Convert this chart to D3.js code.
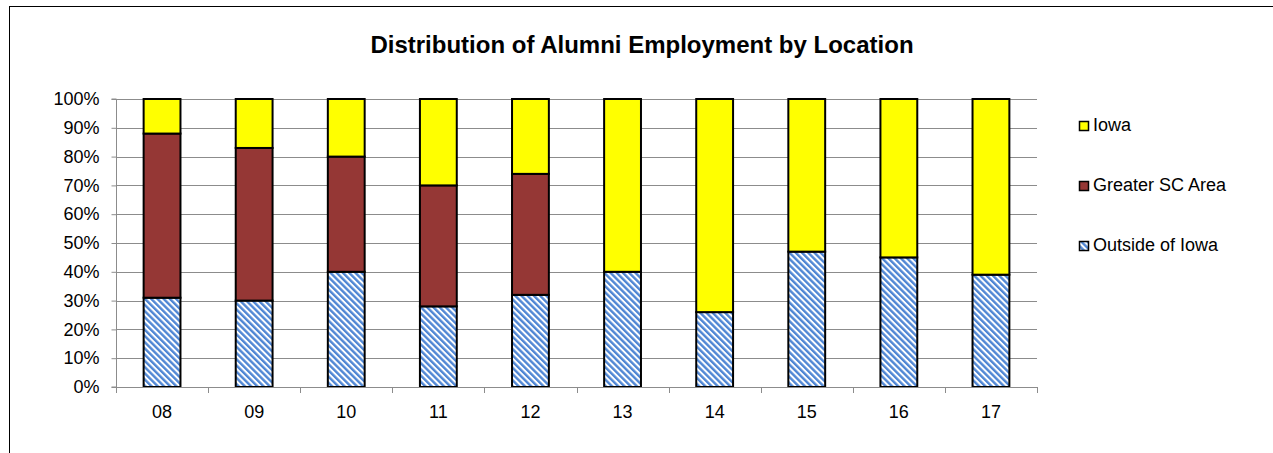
<!DOCTYPE html>
<html>
<head>
<meta charset="utf-8">
<script src="https://cdn.jsdelivr.net/npm/d3@7"></script>
<style>
  html, body { margin: 0; padding: 0; background: #fff; }
  svg { display: block; }
  text { font-family: "Liberation Sans", Arial, sans-serif; fill: #000; }
</style>
</head>
<body>
<svg id="chart" width="1273" height="453"></svg>
<script>
// ---- Data ----
const categories = ["08", "09", "10", "11", "12", "13", "14", "15", "16", "17"];
const outsideOfIowa = [31, 30, 40, 28, 32, 40, 26, 47, 45, 39];
const greaterSCArea = [57, 53, 40, 42, 42, 0, 0, 0, 0, 0];
const iowa = [12, 17, 20, 30, 26, 60, 74, 53, 55, 61];
const yTickValues = [0, 10, 20, 30, 40, 50, 60, 70, 80, 90, 100];
const seriesNames = ["Outside of Iowa", "Greater SC Area", "Iowa"];
const title = "Distribution of Alumni Employment by Location";

// ---- Setup ----
const svg = d3.select("#chart");
const W = 1273, H = 453;
const plot = { left: 116, right: 1037, top: 99, bottom: 387 };

// outer chart border (extends beyond the frame on right/bottom)
svg.append("rect")
  .attr("x", 9.5).attr("y", 6.5)
  .attr("width", W + 20).attr("height", H + 20)
  .attr("fill", "#fff").attr("stroke", "#000").attr("stroke-width", 1);

const defs = svg.append("defs");
const pat = defs.append("pattern")
  .attr("id", "hatch")
  .attr("patternUnits", "userSpaceOnUse")
  .attr("width", 4.4).attr("height", 4.4)
  .attr("patternTransform", "rotate(-45)");
pat.append("rect").attr("width", 4.4).attr("height", 4.4).attr("fill", "#fff");
pat.append("rect").attr("x", 0).attr("y", 0).attr("width", 2.4).attr("height", 4.4).attr("fill", "#4F86D4");

const x = d3.scaleBand().domain(categories).range([plot.left, plot.right]).paddingInner(0.6).paddingOuter(0.3);
const xb = d3.scaleBand().domain(categories).range([plot.left, plot.right]);
const y = d3.scaleLinear().domain([0, 100]).range([plot.bottom, plot.top]);

// gridlines
svg.append("g")
  .selectAll("line")
  .data(yTickValues.filter(v => v > 0))
  .join("line")
  .attr("x1", plot.left).attr("x2", plot.right)
  .attr("y1", d => Math.round(y(d)) + 0.5).attr("y2", d => Math.round(y(d)) + 0.5)
  .attr("stroke", "#8c8c8c").attr("stroke-width", 1);

// stacked bars
const rows = categories.map((c, i) => ({ cat: c, outside: outsideOfIowa[i], greater: greaterSCArea[i], iowa: iowa[i] }));
const stack = d3.stack().keys(["outside", "greater", "iowa"]);
const stacked = stack(rows);
const fills = { outside: "url(#hatch)", greater: "#953735", iowa: "#FFFF00" };

stacked.forEach(layer => {
  svg.append("g")
    .selectAll("rect")
    .data(layer.filter(d => d[1] - d[0] > 0))
    .join("rect")
    .attr("x", d => x(d.data.cat))
    .attr("width", x.bandwidth())
    .attr("y", d => y(d[1]))
    .attr("height", d => y(d[0]) - y(d[1]))
    .attr("fill", fills[layer.key])
    .attr("stroke", "#000").attr("stroke-width", 2);
});

// y axis
const yAxis = d3.axisLeft(y).tickValues(yTickValues).tickSize(5).tickPadding(12).tickFormat(d => d + "%");
const gy = svg.append("g").attr("transform", `translate(${plot.left + 0.5},0)`).call(yAxis);
gy.select(".domain").attr("stroke", "#8c8c8c").attr("d", `M-5,${plot.bottom}H0V${plot.top}H-5`);
gy.selectAll(".tick line").attr("stroke", "#8c8c8c");
gy.selectAll(".tick text").attr("font-size", 18).attr("font-family", "Liberation Sans, Arial, sans-serif").attr("fill", "#000");
gy.attr("font-size", null);

// x axis (ticks at category boundaries)
svg.append("line")
  .attr("x1", plot.left).attr("x2", plot.right)
  .attr("y1", plot.bottom + 0.5).attr("y2", plot.bottom + 0.5)
  .attr("stroke", "#8c8c8c");
const boundaries = categories.map(c => xb(c)).concat([plot.right]);
svg.append("g").selectAll("line").data(boundaries).join("line")
  .attr("x1", d => Math.round(d) + 0.5).attr("x2", d => Math.round(d) + 0.5)
  .attr("y1", plot.bottom).attr("y2", plot.bottom + 6)
  .attr("stroke", "#8c8c8c");
svg.append("g").selectAll("text").data(categories).join("text")
  .attr("x", d => xb(d) + xb.bandwidth() / 2)
  .attr("y", 418)
  .attr("text-anchor", "middle")
  .attr("font-size", 18)
  .text(d => d);

// title
svg.append("text")
  .attr("x", 642).attr("y", 53)
  .attr("text-anchor", "middle")
  .attr("font-size", 24).attr("font-weight", "bold")
  .text(title);

// legend (reverse order: Iowa on top)
const legendItems = [
  { name: seriesNames[2], fill: fills.iowa },
  { name: seriesNames[1], fill: fills.greater },
  { name: seriesNames[0], fill: fills.outside }
];
const lg = svg.append("g").selectAll("g").data(legendItems).join("g")
  .attr("transform", (d, i) => `translate(1079.5,${121.5 + i * 60})`);
lg.append("rect").attr("width", 9).attr("height", 9)
  .attr("fill", d => d.fill).attr("stroke", "#000").attr("stroke-width", 1.5);
lg.append("text").attr("x", 13.5).attr("y", 9.5).attr("font-size", 18).text(d => d.name);
</script>
</body>
</html>
